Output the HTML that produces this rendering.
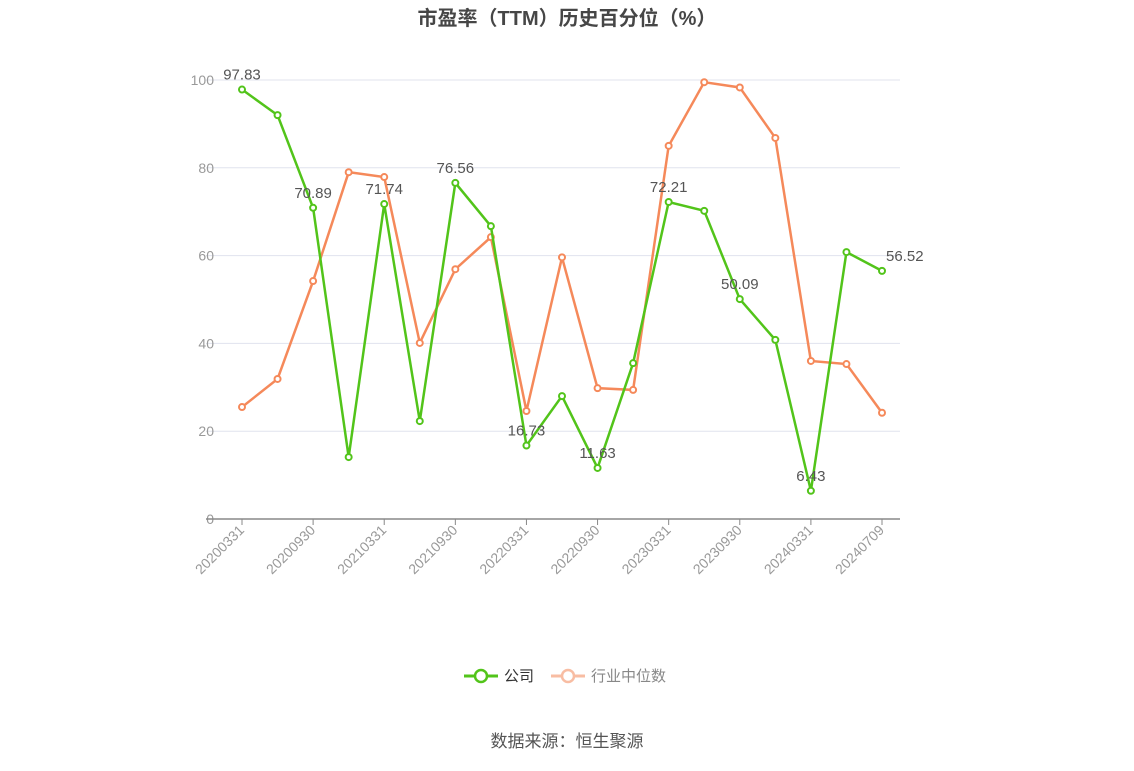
<!DOCTYPE html>
<html><head><meta charset="utf-8"><style>
html,body{margin:0;padding:0;background:#fff;}
body{width:1134px;height:766px;overflow:hidden;font-family:"Liberation Sans","Noto Sans CJK SC",sans-serif;}
</style></head><body>
<svg id="chart" width="1134" height="766" xmlns="http://www.w3.org/2000/svg" font-family="Liberation Sans, Noto Sans CJK SC, sans-serif">
<text x="567" y="25" text-anchor="middle" font-size="20" font-weight="bold" fill="#464646">市盈率（TTM）历史百分位（%）</text>
<g id="grid"></g>
<g id="xaxis"></g>
<g id="series"></g>
<g>
<g>
<line x1="464" y1="676" x2="498" y2="676" stroke="#52c41a" stroke-width="3"/>
<circle cx="481" cy="676" r="6" fill="#fff" stroke="#52c41a" stroke-width="2.5"/>
<text x="504" y="681" font-size="15" fill="#333">公司</text></g>
<g>
<line x1="551" y1="676" x2="585" y2="676" stroke="#f8bda3" stroke-width="3"/>
<circle cx="568" cy="676" r="6" fill="#fff" stroke="#f8bda3" stroke-width="2.5"/>
<text x="591" y="681" font-size="15" fill="#888">行业中位数</text></g>
</g>
<text x="567" y="747" text-anchor="middle" font-size="17" fill="#555">数据来源：恒生聚源</text>
</svg>
<script>
const categories=["20200331","20200630","20200930","20201231","20210331","20210630","20210930","20211231","20220331","20220630","20220930","20221231","20230331","20230630","20230930","20231231","20240331","20240630","20240709"];
const companyValues=[97.83,92.0,70.89,14.1,71.74,22.3,76.56,66.7,16.73,28.0,11.63,35.5,72.21,70.2,50.09,40.8,6.43,60.8,56.52];
const industryValues=[25.5,31.9,54.2,79.0,77.9,40.1,56.9,64.2,24.6,59.6,29.8,29.4,85.0,99.5,98.3,86.8,36.0,35.3,24.2];
const yTicks=[0,20,40,60,80,100];
const labeledIdx=[0,2,4,6,8,10,12,14,16,18];
const companyLabels=[0,2,4,6,8,10,12,14,16,18];
const NS="http://www.w3.org/2000/svg";
const X0=242,X1=882,Y0=519,Y100=80;
const xs=i=>X0+(X1-X0)*i/(categories.length-1);
const ys=v=>Y0-(Y0-Y100)*v/100;
function mk(tag,attrs,parent){const e=document.createElementNS(NS,tag);for(const k in attrs)e.setAttribute(k,attrs[k]);parent.appendChild(e);return e;}
const grid=document.getElementById('grid'),xa=document.getElementById('xaxis'),ser=document.getElementById('series');
yTicks.forEach(t=>{
 if(t>0){const l=mk('line',{x1:206,x2:900,y1:ys(t),y2:ys(t),stroke:'#e0e3ee','stroke-width':1},grid);
 
 }
 const tx=mk('text',{x:214,y:ys(t)+5,'text-anchor':'end','font-size':14,fill:'#999'},grid);tx.textContent=t;
 
 
});
const ax=mk('line',{x1:206,x2:900,y1:Y0,y2:Y0,stroke:'#888','stroke-width':1.5},xa);


labeledIdx.forEach(i=>{
 const x=xs(i);
 mk('line',{x1:x,x2:x,y1:Y0,y2:Y0+6,stroke:'#888'},xa);
 const t=mk('text',{x:x+3,y:Y0+12,'text-anchor':'end','font-size':14,fill:'#999',transform:`rotate(-45 ${x+3} ${Y0+12})`},xa);
 t.textContent=categories[i];
 
 
});
function draw(vals,color,name){
 const p=mk('polyline',{points:vals.map((v,i)=>xs(i)+','+ys(v)).join(' '),fill:'none',stroke:color,'stroke-width':2.5},ser);
 
 
 vals.forEach((v,i)=>{const c=mk('circle',{cx:xs(i),cy:ys(v),r:3,fill:'#fff',stroke:color,'stroke-width':2},ser);
 
 });
}
draw(industryValues,'#f5895a','industry-median');
draw(companyValues,'#52c41a','company');
companyLabels.forEach(i=>{
 const t=mk('text',{x:xs(i)+(i==18?4:0),y:ys(companyValues[i])-10,'text-anchor':i==18?'start':'middle','font-size':15,fill:'#555'},ser);
 t.textContent=companyValues[i].toFixed(2);
 
 
});
</script>
</body></html>
